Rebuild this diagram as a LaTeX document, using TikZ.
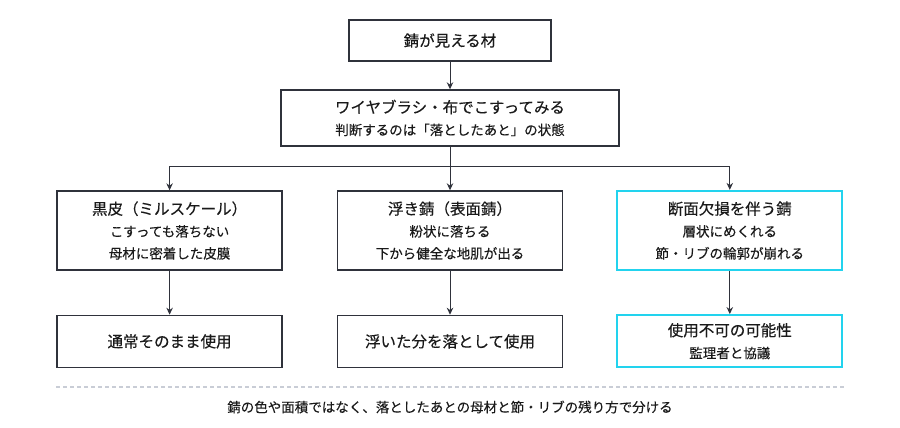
\documentclass[tikz,border=0pt]{standalone}
\usepackage{fontspec}
\setmainfont{Noto Sans CJK JP}[FakeBold=0.2]
\usepackage{xcolor}
\definecolor{boxline}{HTML}{2F323B}
\definecolor{warnline}{HTML}{22D3EE}
\definecolor{txt}{HTML}{1A1A1A}
\definecolor{sepline}{HTML}{C9CDD6}
\usetikzlibrary{
  arrows.meta,
  positioning
}
\newcommand{\subline}[1]{{\fontsize{13.5}{22}\selectfont #1}}

\begin{document}
\begin{tikzpicture}[
    x=1pt, y=-1pt,
    every node/.style={font=\fontsize{15.5}{22}\selectfont, text=txt},
    box/.style={
      draw=boxline,
      line width=1.4pt,
      align=center,
      fill=white,
      inner sep=0pt,
      minimum width=225pt,
      minimum height=79pt
    },
    warnbox/.style={box, draw=warnline, line width=2.2pt},
    note/.style={
      draw=none,
      align=center,
      font=\fontsize{13.5}{18}\selectfont
    },
    ar/.style={-{Stealth[length=7pt,width=6.5pt]}, line width=1pt, draw=boxline},
    sep/.style={draw=sepline, line width=1.3pt, dash pattern=on 4pt off 3pt}
  ]
    \useasboundingbox (0,0) rectangle (900,428);

    % Top: material and the brushing check
    \node[box, minimum width=202pt, minimum height=41pt] (rust) at (450,40.5) {錆が見える材};
    \node[box, minimum width=338pt, minimum height=56pt] (brush) at (450,118)
      {ワイヤブラシ・布でこすってみる\\
       \subline{判断するのは「落としたあと」の状態}};

    % Middle row: three kinds of rust
    \node[box] (uki) at (450,230.5)
      {浮き錆（表面錆）\\
       \subline{粉状に落ちる}\\
       \subline{下から健全な地肌が出る}};
    \node[box, left=54pt of uki] (kuro)
      {黒皮（ミルスケール）\\
       \subline{こすっても落ちない}\\
       \subline{母材に密着した皮膜}};
    \node[warnbox, right=53pt of uki] (kesson)
      {断面欠損を伴う錆\\
       \subline{層状にめくれる}\\
       \subline{節・リブの輪郭が崩れる}};

    % Bottom row: what to do
    \node[box, minimum height=52pt, below=44pt of kuro] (use) {通常そのまま使用};
    \node[box, minimum height=52pt, below=44pt of uki] (clean) {浮いた分を落として使用};
    \node[warnbox, minimum height=52pt, below=43pt of kesson] (ng)
      {使用不可の可能性\\
       \subline{監理者と協議}};

    \draw[ar] (rust) -- (brush);
    \draw[ar] (brush) -- (uki);
    \draw[ar] (brush.south) -- ++(0,20) -| (kuro.north);
    \draw[ar] (brush.south) -- ++(0,20) -| (kesson.north);

    \draw[ar] (kuro) -- (use);
    \draw[ar] (uki) -- (clean);
    \draw[ar] (kesson) -- (ng);

    % Separator and closing note
    \coordinate (sepL) at (56,387);
    \coordinate (sepR) at (844,387);
    \draw[sep] (sepL) -- (sepR);
    \node[note] (rule) at (450,407)
      {錆の色や面積ではなく、落としたあとの母材と節・リブの残り方で分ける};

  \end{tikzpicture}
\end{document}
